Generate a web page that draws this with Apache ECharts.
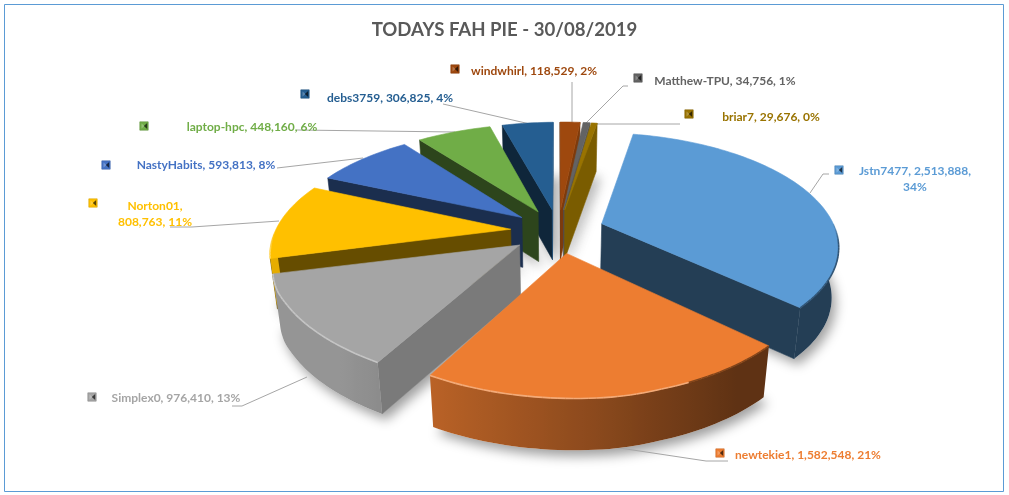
<!DOCTYPE html>
<html><head><meta charset="utf-8">
<style>html,body{margin:0;padding:0;background:#fff}#c{width:1009px;height:495px}</style>
<script src="https://cdn.jsdelivr.net/npm/echarts@6/dist/echarts.min.js"></script>
</head><body><div id="c"></div>
<script>
var names = ['Jstn7477','newtekie1','Simplex0','Norton01','NastyHabits','laptop-hpc','debs3759','windwhirl','Matthew-TPU','briar7'];
var values = [2513888,1582548,976410,808763,593813,448160,306825,118529,34756,29676];
var percents = [34,21,13,11,8,6,4,2,1,0];
var colors = ['#5b9bd5','#ed7d31','#a5a5a5','#ffc000','#4472c4','#70ad47','#255e91','#9e480e','#636363','#997300'];
var titleText = 'TODAYS FAH PIE - 30/08/2019';

// label layout: text anchor x, y, alignment, line break, key pos, leader polyline
var layout = [
 {x:915,y:171,br:2,key:[839,170],line:[[829,174],[823,174],[810,193]]},
 {x:808,y:455,key:[720,453],line:[[728,461],[706,461],[613,447]]},
 {x:176,y:398,key:[92,397],line:[[232,406],[242,406],[307,377]]},
 {x:155,y:206,br:1,key:[93,203],line:[[170,227],[192,227],[279,221]]},
 {x:206,y:165,key:[106,165],line:[[277,168],[363,158]]},
 {x:252,y:127,key:[144,126],line:[[297,130],[455,132]]},
 {x:390,y:98,key:[305,94],line:[[443,104],[530,124]]},
 {x:534,y:71,key:[455,69],line:[[572,82],[572,124]]},
 {x:725,y:81,key:[638,78],line:[[628,86],[623,86],[585,124]]},
 {x:771,y:117,key:[689,114],line:[[680,124],[591,124]]}
];

var CX=558, CY=231, RX=234, RY=110, K=0.178, EXP=0.2, START=11, D0=50;
var total = values.reduce(function(a,b){return a+b;},0);
var rad = Math.PI/180;
function clamp(x,a,b){return Math.max(a,Math.min(b,x));}
function dir(t){return [Math.sin(t*rad),-Math.cos(t*rad)];}
function proj(u,v){
  var w=1/(1-K*v);
  var f=clamp((0.34-u)/0.2,0,1);               // small twist of the left half of the plane
  var widen=4.5*clamp(-u,0,1)*clamp((0.9-v)/0.4,0,1);
  return [CX+RX*u*w+7*v*f-widen, CY+RY*v*w-4.5*u*f*clamp((0.6-v)/0.4,0,1)];
}
function drop(p,v){return [p[0]+(CX-p[0])*0.025,p[1]+D0+1.5*v];}
function rgb(c){return [parseInt(c.substr(1,2),16),parseInt(c.substr(3,2),16),parseInt(c.substr(5,2),16)];}
function shade(c,f){var a=rgb(c);return 'rgb('+a.map(function(x){return Math.round(f<=1?x*f:x+(255-x)*(f-1));}).join(',')+')';}

var spans=[],acc=0;
values.forEach(function(x){var s=START+acc/total*360;acc+=x;spans.push([s,START+acc/total*360]);});
var rank=spans.map(function(s,i){return {i:i,f:-Math.cos((s[0]+s[1])/2*rad)};}).sort(function(a,b){return a.f-b.f;});
var rankOf={};rank.forEach(function(r,n){rankOf[r.i]=n;});

function poly(points,fill,z2,extra){
  var st={fill:fill,stroke:fill,lineWidth:0.6};
  if(extra)for(var k in extra)st[k]=extra[k];
  return {type:'polygon',shape:{points:points},style:st,z2:z2,silent:true};
}
function pline(points,stroke,w,z2){
  return {type:'polyline',shape:{points:points},style:{fill:null,stroke:stroke,lineWidth:w},z2:z2,silent:true};
}
function text(txt,x,y,color,z2){
  return {type:'text',x:x,y:y,style:{text:txt,fill:color,font:'bold 12px Lato',textAlign:'center',textVerticalAlign:'middle'},z2:z2,silent:true};
}
function fmt(v){return String(v).replace(/\B(?=(\d{3})+$)/g,',');}

function renderSlice(params,api){
  var i=params.dataIndex, val=api.value(0), col=colors[i], s=spans[i];
  var mid=(s[0]+s[1])/2, e=dir(mid), ox=e[0]*EXP, oy=e[1]*EXP;
  var base=100+rankOf[i]*10, kids=[];
  function P(t,r){var d=dir(t);return {u:d[0]*r+ox,v:d[1]*r+oy};}
  var ap=P(mid,0), A=proj(ap.u,ap.v), Ab=drop(A,ap.v);
  var arc=[],n=Math.max(2,Math.ceil((s[1]-s[0])/1.5));
  for(var j=0;j<=n;j++){var t=s[0]+(s[1]-s[0])*j/n,q=P(t,1),p=proj(q.u,q.v);arc.push({t:t,u:q.u,v:q.v,d:dir(t),p:p,b:drop(p,q.v)});}
  var topPts=[A].concat(arc.map(function(a){return a.p;}));
  var botPts=[Ab].concat(arc.map(function(a){return a.b;}));
  kids.push(poly(botPts,'#ffffff',1,{shadowBlur:12,shadowColor:'rgba(0,0,0,0.38)',shadowOffsetX:4,shadowOffsetY:6,lineWidth:0}));
  var mq=proj(P(mid,0.6).u,P(mid,0.6).v);
  function wall(edge,sign){
    var c1=(edge.p[0]-A[0]), c2=(edge.p[0]-A[0])*(mq[1]-A[1])-(edge.p[1]-A[1])*(mq[0]-A[0]);
    if(c1*c2>=0) return;
    var nu=sign*Math.cos(edge.t*rad);
    kids.push(poly([A,edge.p,edge.b,Ab],shade(col,clamp(0.4+(nu-0.25)*0.55,0.4,0.8)),base));
  }
  wall(arc[0],-1);wall(arc[n],1);
  // outer wall, facing the viewer only, one shape with a horizontal gradient
  var vis=arc.filter(function(a){return a.d[1]>-0.02;});
  if(vis.length>1){
    var xs=vis.map(function(a){return a.p[0];});
    var x0=Math.min.apply(null,xs),x1=Math.max.apply(null,xs);
    var stops=vis.map(function(a){return {offset:x1>x0?clamp((a.p[0]-x0)/(x1-x0),0,1):0,color:shade(col,clamp(0.62-0.35*a.u,0.4,0.9))};})
      .sort(function(a,b){return a.offset-b.offset;});
    var grad={type:'linear',x:x0,y:0,x2:x1,y2:0,global:true,colorStops:stops};
    var pts=vis.map(function(a){return a.p;}).concat(vis.slice().reverse().map(function(a){return a.b;}));
    kids.push(poly(pts,grad,base+1,{lineWidth:0}));
  }
  kids.push(poly(topPts,col,base+2));
  // bevel along the near rim
  for(var j=0;j<n;j++){
    var a=arc[j],b=arc[j+1];
    if((a.d[1]+b.d[1])/2>0){
      var lit=a.u<0.45;
      var a0=a.d[1]>0.15?1:a.d[1]/0.15;
      kids.push({type:'line',shape:{x1:a.p[0],y1:a.p[1],x2:b.p[0],y2:b.p[1]},
        style:{stroke:lit?shade(col,1.35):shade(col,0.55),lineWidth:1.6,opacity:Math.max(0.15,a0)},z2:base+3,silent:true});
    }
  }
  var L=layout[i];
  kids.push(pline(L.line,'#a6a6a6',1,2));
  var kx=L.key[0],ky=L.key[1],h=4.2;
  kids.push({type:'rect',shape:{x:kx-h,y:ky-h,width:2*h,height:2*h},style:{fill:col,stroke:shade(col,0.85),lineWidth:0.6},z2:500,silent:true});
  kids.push(poly([[kx-2.5,ky-2.6],[kx-2.5,ky+2.6],[kx+0.6,ky]],shade(col,1.25),501,{lineWidth:0}));
  kids.push(poly([[kx+3.2,ky-3],[kx+3.2,ky+3],[kx-0.2,ky]],shade(col,0.35),501,{lineWidth:0}));
  var parts=[names[i]+',',fmt(val)+',',percents[i]+'%'];
  if(L.br===2){
    kids.push(text(parts[0]+' '+parts[1],L.x,L.y,col,510));
    kids.push(text(parts[2],L.x,L.y+16,col,510));
  }else if(L.br===1){
    kids.push(text(parts[0],L.x,L.y,col,510));
    kids.push(text(parts[1]+' '+parts[2],L.x,L.y+16,col,510));
  }else{
    kids.push(text(parts.join(' '),L.x,L.y,col,510));
  }
  return {type:'group',children:kids};
}

var chart=echarts.init(document.getElementById('c'),null,{renderer:'canvas'});
chart.setOption({
  animation:false,
  backgroundColor:'#ffffff',
  title:{text:titleText,left:'center',top:20,padding:0,
    textStyle:{fontFamily:'Lato',fontWeight:'bold',fontSize:18.6,color:'#595959'}},
  graphic:[{type:'rect',shape:{x:4.5,y:4.5,width:999,height:487},style:{fill:null,stroke:'#5b9bd5',lineWidth:1},silent:true,z:-1}],
  series:[{type:'custom',coordinateSystem:'none',renderItem:renderSlice,
    data:values.map(function(v,i){return {name:names[i],value:[v]};})}]
});
</script></body></html>
